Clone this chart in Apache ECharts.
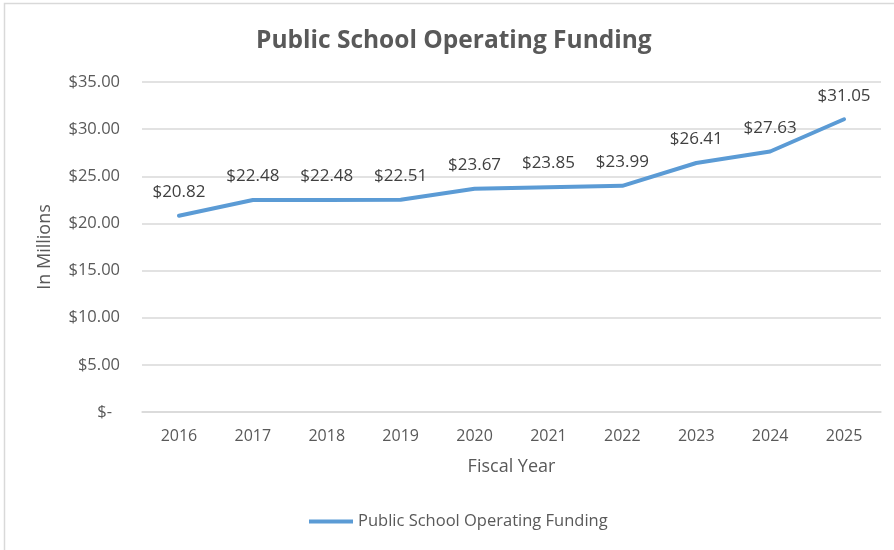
<!DOCTYPE html>
<html>
<head>
<meta charset="utf-8">
<script src="https://cdn.jsdelivr.net/npm/echarts@6/dist/echarts.min.js"></script>
<style>
  html, body { margin: 0; padding: 0; background: #ffffff; }
  #chart { width: 894px; height: 550px; }
</style>
</head>
<body>
<div id="chart"></div>
<script>
// Fiscal years and operating funding (millions of dollars)
const fiscalYears = ['2016', '2017', '2018', '2019', '2020', '2021', '2022', '2023', '2024', '2025'];
const fundingValues = [20.82, 22.48, 22.48, 22.51, 23.67, 23.85, 23.99, 26.41, 27.63, 31.05];
const seriesName = 'Public School Operating Funding';

const FONT = '"Open Sans", "Noto Sans", sans-serif';
const TEXT_GREY = '#595959';

const chart = echarts.init(document.getElementById('chart'), null, { renderer: 'canvas' });

chart.setOption({
  backgroundColor: '#ffffff',
  animation: false,
  title: {
    text: 'Public School Operating Funding',
    left: 251,
    top: 24,
    textStyle: { fontFamily: FONT, fontSize: 24.5, fontWeight: 'bold', color: TEXT_GREY }
  },
  graphic: [{
    type: 'rect',
    shape: { x: 4.5, y: 3.5, width: 920, height: 580 },
    style: { fill: 'none', stroke: '#d9d9d9', lineWidth: 1.5 },
    silent: true
  }],
  legend: {
    bottom: 15,
    left: 304,
    itemWidth: 44,
    itemHeight: 4,
    itemGap: 4,
    icon: 'rect',
    data: [seriesName],
    textStyle: { fontFamily: FONT, fontSize: 16.5, color: TEXT_GREY }
  },
  grid: { left: 142, right: 13, top: 82, bottom: 138 },
  xAxis: {
    type: 'category',
    data: fiscalYears,
    boundaryGap: true,
    name: 'Fiscal Year',
    nameLocation: 'middle',
    nameGap: 46,
    nameTextStyle: { fontFamily: FONT, fontSize: 18, color: TEXT_GREY },
    axisLine: { show: true, lineStyle: { color: '#d9d9d9', width: 1.5 } },
    axisTick: { show: false },
    axisLabel: { fontFamily: FONT, fontSize: 16, color: TEXT_GREY, margin: 16 }
  },
  yAxis: {
    type: 'value',
    min: 0,
    max: 35,
    interval: 5,
    name: 'In Millions',
    nameLocation: 'middle',
    nameGap: 88,
    nameRotate: 90,
    nameTextStyle: { fontFamily: FONT, fontSize: 18, color: TEXT_GREY },
    axisLine: { show: false },
    axisTick: { show: false },
    splitLine: { lineStyle: { color: '#d9d9d9', width: 1.5 } },
    axisLabel: {
      fontFamily: FONT,
      fontSize: 16.5,
      color: TEXT_GREY,
      margin: 22,
      formatter: function (v) {
        return v === 0 ? '{z|$-}' : '$' + v.toFixed(2);
      },
      rich: {
        z: { fontFamily: FONT, fontSize: 16.5, color: TEXT_GREY, padding: [0, 8, 0, 0] }
      }
    }
  },
  series: [{
    name: seriesName,
    type: 'line',
    data: fundingValues,
    showSymbol: true,
    symbol: 'circle',
    symbolSize: 0.1,
    color: '#5b9bd5',
    lineStyle: { width: 4, color: '#5b9bd5', cap: 'round', join: 'round' },
    label: {
      show: true,
      position: 'top',
      distance: 15,
      fontFamily: FONT,
      fontSize: 17,
      color: '#404040',
      formatter: function (p) { return '$' + p.value.toFixed(2); }
    },
    labelLayout: { hideOverlap: false }
  }]
});
</script>
</body>
</html>
